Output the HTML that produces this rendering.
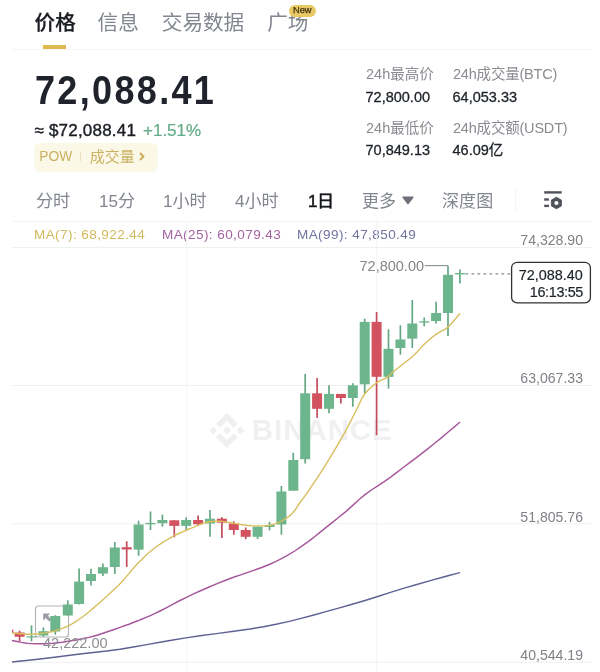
<!DOCTYPE html>
<html lang="zh-CN">
<head>
<meta charset="utf-8">
<title>BTC 价格</title>
<style>
*{margin:0;padding:0;box-sizing:border-box}
html,body{width:600px;height:672px;background:#fff;overflow:hidden}
body{font-family:"Liberation Sans","Noto Sans CJK SC",sans-serif;color:#1e2329;position:relative}
#app{position:absolute;left:0;top:0;width:600px;height:672px;overflow:hidden;background:#fff}
.abs{position:absolute;white-space:nowrap;line-height:1}
.tab{font-size:20.6px;color:#82868f;top:11.5px;line-height:22px}
.tab.on{color:#1b1d22;font-weight:500;-webkit-text-stroke:0.25px #1b1d22}
.badge{left:288.5px;top:4.8px;width:27.5px;height:11.8px;border-radius:6px;background:#e9c963;color:#3f3210;font-size:9.3px;line-height:11.8px;text-align:center;-webkit-text-stroke:0.25px #3f3210}
.uline{left:43px;top:45px;width:23px;height:4.4px;background:#dfb94f}
.hr{height:1px;background:#f4f4f5;left:12px;width:580px}
.big{left:34.5px;top:70px;font-size:40.5px;font-weight:700;letter-spacing:2.6px;color:#20232c;transform:scaleX(0.89);transform-origin:0 0}
.approx{left:34.5px;top:122px;font-size:17px;color:#1b1e24;-webkit-text-stroke:0.4px #1b1e24;letter-spacing:0.2px}
.chg{left:143px;top:122px;font-size:17px;color:#62ab87;-webkit-text-stroke:0.2px #62ab87}
.pow{left:34.3px;top:143px;width:124px;height:28.8px;border-radius:6px;background:#fcf8e7;color:#c9b162;font-size:15px;line-height:28.8px}
.lbl{font-size:14.5px;color:#8a8c92}
.val{font-size:14.5px;color:#1e2329;-webkit-text-stroke:0.3px #1e2329}
.iv{font-size:17.1px;color:#82868f;top:191.5px;line-height:20px}
.iv.on{color:#16181c;-webkit-text-stroke:0.55px #16181c;letter-spacing:-0.6px}
.ma{font-size:13.5px;top:227.5px;letter-spacing:0.43px}
.ax{font-size:14.1px;color:#808287;right:17px;margin-top:-0.5px}
</style>
</head>
<body>
<div id="app">
  <div class="abs tab on" style="left:34.6px">价格</div>
  <div class="abs tab" style="left:97.6px">信息</div>
  <div class="abs tab" style="left:161.800px">交易数据</div>
  <div class="abs tab" style="left:267.200px">广场</div>
  <div class="abs badge">New</div>
  <div class="abs uline"></div>
  <div class="abs hr" style="top:48.500px"></div>

  <div class="abs big">72,088.41</div>
  <div class="abs approx">≈ $72,088.41</div>
  <div class="abs chg">+1.51%</div>
  <div class="abs pow"><span style="position:absolute;left:5px;font-size:13.8px">POW</span><span style="position:absolute;left:46px;top:9px;width:1px;height:9px;background:#eadfb9"></span><span style="position:absolute;left:55.5px">成交量</span><svg style="position:absolute;left:104px;top:8px" width="8" height="11" viewBox="0 0 8 11"><path d="M2 2 L5.5 5.5 L2 9" fill="none" stroke="#c7aa52" stroke-width="1.8"/></svg></div>

  <div class="abs lbl" style="left:366px;top:66.7px">24h最高价</div>
  <div class="abs val" style="left:365.5px;top:90px">72,800.00</div>
  <div class="abs lbl" style="left:453px;top:66.7px;letter-spacing:-0.2px">24h成交量(BTC)</div>
  <div class="abs val" style="left:452.5px;top:90px">64,053.33</div>
  <div class="abs lbl" style="left:366px;top:120.7px">24h最低价</div>
  <div class="abs val" style="left:365.5px;top:143px">70,849.13</div>
  <div class="abs lbl" style="left:453px;top:120.7px;letter-spacing:-0.2px">24h成交额(USDT)</div>
  <div class="abs val" style="left:452.5px;top:143px">46.09亿</div>

  <div class="abs iv" style="left:36px">分时</div>
  <div class="abs iv" style="left:99px">15分</div>
  <div class="abs iv" style="left:163px">1小时</div>
  <div class="abs iv" style="left:235px">4小时</div>
  <div class="abs iv on" style="left:308px">1日</div>
  <div class="abs iv" style="left:362px">更多</div>
  <svg class="abs" style="left:401px;top:195px" width="14" height="11" viewBox="0 0 14 11"><path d="M2.200 2.200 H11.800 L7 8.600 Z" fill="#6e717a" stroke="#6e717a" stroke-width="1.6" stroke-linejoin="round"/></svg>
  <div class="abs iv" style="left:442px">深度图</div>
  <div class="abs" style="left:515px;top:189px;width:1px;height:22px;background:#f4f4f5"></div>
  <svg class="abs" style="left:543px;top:190px" width="22" height="21" viewBox="0 0 22 21">
    <rect x="1.200" y="1.200" width="17.5" height="2.400" fill="#50535b"/>
    <rect x="1.200" y="8.300" width="4.700" height="2.400" fill="#50535b"/>
    <rect x="1.200" y="14.700" width="4.700" height="2.400" fill="#50535b"/>
    <path d="M13.400 7.200 L18.400 10.100 L18.400 15.900 L13.400 18.800 L8.400 15.900 L8.400 10.100 Z" fill="#50535b" stroke="#50535b" stroke-width="0.9" stroke-linejoin="round"/>
    <circle cx="13.400" cy="13" r="2.100" fill="#fff"/>
  </svg>

  <div class="abs hr" style="top:221px"></div>
  <div class="abs ma" style="left:34px;color:#d0b95e">MA(7): 68,922.44</div>
  <div class="abs ma" style="left:162px;color:#a4649f">MA(25): 60,079.43</div>
  <div class="abs ma" style="left:297px;color:#7373a0">MA(99): 47,850.49</div>

  <svg class="abs" style="left:0;top:0" width="600" height="672" viewBox="0 0 600 672">
    <g stroke="#f0f0f1" stroke-width="1">
      <line x1="12" y1="247.500" x2="592" y2="247.500"/>
      <line x1="12" y1="385.500" x2="592" y2="385.500"/>
      <line x1="12" y1="523.800" x2="592" y2="523.800"/>
      <line x1="12" y1="662.300" x2="592" y2="662.300"/>
      <line x1="186.700" y1="221" x2="186.700" y2="672" stroke="#f3f3f4"/>
      <line x1="376.700" y1="221" x2="376.700" y2="672" stroke="#f3f3f4"/>
    </g>
    <!-- watermark -->
    <g fill="#f0f0f1">
      <g transform="translate(209.200,412.800) scale(0.2790)">
        <path d="M38.73,53.2 L63.31,28.63 L87.9,53.22 L102.2,38.92 L63.31,0 L24.43,38.9 Z"/>
        <path d="M0,63.31 L14.3,49 L28.6,63.31 L14.3,77.61 Z"/>
        <path d="M38.73,73.41 L63.31,98 L87.9,73.4 L102.21,87.69 L63.31,126.61 L24.43,87.73 Z"/>
        <path d="M98,63.31 L112.3,49 L126.61,63.31 L112.3,77.61 Z"/>
        <path d="M77.83,63.3 L63.31,48.78 L48.8,63.3 L63.31,77.82 Z"/>
      </g>
      <text transform="translate(251.800,440.300) scale(1.0,1)" x="0" y="0" font-family="Liberation Sans, sans-serif" font-weight="700" font-size="29.4" letter-spacing="1">BINANCE</text>
    </g>
    <!-- low tooltip -->
    <rect x="35.500" y="606" width="33" height="31" rx="3" fill="none" stroke="#b4b6b8" stroke-width="1.200"/>
    <path d="M43.200 613.400 H50.300 L47.900 615.800 L51.400 619.300 L49.200 621.500 L45.700 618 L43.200 620.500 Z" fill="#9a9ca6"/>
  <rect x="12" y="629.7" width="1.3" height="3.3" fill="#d3525f"/>
<line x1="19.60" y1="630.7" x2="19.60" y2="641.3" stroke="#c24c5d" stroke-width="1.7"/>
<rect x="14.60" y="632.5" width="10" height="4.30" fill="#d3525f"/>
<line x1="31.50" y1="625.3" x2="31.50" y2="641.3" stroke="#64a783" stroke-width="1.7"/>
<rect x="26.50" y="636.3" width="10" height="1.20" fill="#6db58c"/>
<line x1="43.40" y1="627.5" x2="43.40" y2="636.8" stroke="#64a783" stroke-width="1.7"/>
<rect x="38.40" y="631.2" width="10" height="4.30" fill="#6db58c"/>
<line x1="55.30" y1="615.2" x2="55.30" y2="634.7" stroke="#64a783" stroke-width="1.7"/>
<rect x="50.30" y="616" width="10" height="15.50" fill="#6db58c"/>
<line x1="67.80" y1="600.3" x2="67.80" y2="615.5" stroke="#64a783" stroke-width="1.7"/>
<rect x="62.80" y="604.5" width="10" height="11.00" fill="#6db58c"/>
<line x1="79.10" y1="568.5" x2="79.10" y2="604.5" stroke="#64a783" stroke-width="1.7"/>
<rect x="74.10" y="581.6" width="10" height="22.40" fill="#6db58c"/>
<line x1="91.00" y1="568.8" x2="91.00" y2="585.6" stroke="#64a783" stroke-width="1.7"/>
<rect x="86.00" y="574" width="10" height="7.00" fill="#6db58c"/>
<line x1="102.90" y1="563.5" x2="102.90" y2="576" stroke="#64a783" stroke-width="1.7"/>
<rect x="97.90" y="567.2" width="10" height="6.40" fill="#6db58c"/>
<line x1="114.80" y1="542" x2="114.80" y2="574" stroke="#64a783" stroke-width="1.7"/>
<rect x="109.80" y="547.5" width="10" height="19.50" fill="#6db58c"/>
<line x1="126.70" y1="541.3" x2="126.70" y2="567" stroke="#c24c5d" stroke-width="1.7"/>
<rect x="121.70" y="547.2" width="10" height="2.30" fill="#d3525f"/>
<line x1="138.60" y1="520.8" x2="138.60" y2="555.7" stroke="#64a783" stroke-width="1.7"/>
<rect x="133.60" y="524.5" width="10" height="25.10" fill="#6db58c"/>
<line x1="150.50" y1="511.5" x2="150.50" y2="530" stroke="#64a783" stroke-width="1.7"/>
<rect x="145.50" y="522.9" width="10" height="1.40" fill="#6db58c"/>
<line x1="162.40" y1="514.7" x2="162.40" y2="526.7" stroke="#64a783" stroke-width="1.7"/>
<rect x="157.40" y="520" width="10" height="3.20" fill="#6db58c"/>
<line x1="174.30" y1="520.3" x2="174.30" y2="537.3" stroke="#c24c5d" stroke-width="1.7"/>
<rect x="169.30" y="520.3" width="10" height="5.60" fill="#d3525f"/>
<line x1="186.20" y1="517.3" x2="186.20" y2="530.7" stroke="#64a783" stroke-width="1.7"/>
<rect x="181.20" y="520" width="10" height="5.90" fill="#6db58c"/>
<line x1="198.10" y1="515.5" x2="198.10" y2="526" stroke="#c24c5d" stroke-width="1.7"/>
<rect x="193.10" y="520" width="10" height="4.30" fill="#d3525f"/>
<line x1="210.00" y1="509.9" x2="210.00" y2="536.8" stroke="#64a783" stroke-width="1.7"/>
<rect x="205.00" y="518.7" width="10" height="4.80" fill="#6db58c"/>
<line x1="221.90" y1="517.3" x2="221.90" y2="538" stroke="#c24c5d" stroke-width="1.7"/>
<rect x="216.90" y="518.7" width="10" height="4.00" fill="#d3525f"/>
<line x1="233.80" y1="521.3" x2="233.80" y2="534.7" stroke="#c24c5d" stroke-width="1.7"/>
<rect x="228.80" y="523.5" width="10" height="6.50" fill="#d3525f"/>
<line x1="245.70" y1="527.5" x2="245.70" y2="539.2" stroke="#c24c5d" stroke-width="1.7"/>
<rect x="240.70" y="530" width="10" height="6.80" fill="#d3525f"/>
<line x1="257.60" y1="526.7" x2="257.60" y2="539" stroke="#64a783" stroke-width="1.7"/>
<rect x="252.60" y="526.7" width="10" height="10.10" fill="#6db58c"/>
<line x1="269.50" y1="521.9" x2="269.50" y2="530.4" stroke="#64a783" stroke-width="1.7"/>
<rect x="264.50" y="525" width="10" height="2.00" fill="#6db58c"/>
<line x1="281.40" y1="486" x2="281.40" y2="534.7" stroke="#64a783" stroke-width="1.7"/>
<rect x="276.40" y="491.5" width="10" height="33.00" fill="#6db58c"/>
<line x1="293.30" y1="452.8" x2="293.30" y2="490.7" stroke="#64a783" stroke-width="1.7"/>
<rect x="288.30" y="460" width="10" height="30.70" fill="#6db58c"/>
<line x1="305.20" y1="373.9" x2="305.20" y2="463.5" stroke="#64a783" stroke-width="1.7"/>
<rect x="300.20" y="393.3" width="10" height="65.90" fill="#6db58c"/>
<line x1="317.10" y1="377.9" x2="317.10" y2="418" stroke="#c24c5d" stroke-width="1.7"/>
<rect x="312.10" y="393.3" width="10" height="15.50" fill="#d3525f"/>
<line x1="329.00" y1="385.3" x2="329.00" y2="413.3" stroke="#64a783" stroke-width="1.7"/>
<rect x="324.00" y="393.9" width="10" height="14.90" fill="#6db58c"/>
<line x1="340.90" y1="393.9" x2="340.90" y2="403.5" stroke="#c24c5d" stroke-width="1.7"/>
<rect x="335.90" y="393.9" width="10" height="4.10" fill="#d3525f"/>
<line x1="352.80" y1="383.2" x2="352.80" y2="406.7" stroke="#64a783" stroke-width="1.7"/>
<rect x="347.80" y="385.3" width="10" height="12.70" fill="#6db58c"/>
<line x1="364.70" y1="318.7" x2="364.70" y2="393.3" stroke="#64a783" stroke-width="1.7"/>
<rect x="359.70" y="321.9" width="10" height="62.40" fill="#6db58c"/>
<line x1="376.60" y1="312" x2="376.60" y2="435.2" stroke="#c24c5d" stroke-width="1.7"/>
<rect x="371.60" y="321.9" width="10" height="54.90" fill="#d3525f"/>
<line x1="388.50" y1="329.3" x2="388.50" y2="388.5" stroke="#64a783" stroke-width="1.7"/>
<rect x="383.50" y="348.8" width="10" height="28.00" fill="#6db58c"/>
<line x1="400.40" y1="325.3" x2="400.40" y2="354.7" stroke="#64a783" stroke-width="1.7"/>
<rect x="395.40" y="339.5" width="10" height="8.50" fill="#6db58c"/>
<line x1="412.30" y1="300" x2="412.30" y2="348" stroke="#64a783" stroke-width="1.7"/>
<rect x="407.30" y="323.5" width="10" height="15.10" fill="#6db58c"/>
<line x1="424.20" y1="317.5" x2="424.20" y2="326.3" stroke="#64a783" stroke-width="1.7"/>
<rect x="419.20" y="321.3" width="10" height="1.30" fill="#6db58c"/>
<line x1="436.10" y1="301.8" x2="436.10" y2="323.5" stroke="#64a783" stroke-width="1.7"/>
<rect x="431.10" y="313" width="10" height="8.00" fill="#6db58c"/>
<line x1="448.00" y1="265.7" x2="448.00" y2="336" stroke="#64a783" stroke-width="1.7"/>
<rect x="443.00" y="274.8" width="10" height="38.20" fill="#6db58c"/>
<line x1="459.90" y1="269.6" x2="459.90" y2="283.6" stroke="#64a783" stroke-width="1.7"/>
<rect x="454.90" y="273.0" width="10" height="1.40" fill="#6db58c"/>
    <polyline fill="none" stroke="#d8be5f" stroke-width="1.4" stroke-linejoin="round" points="12.0,633.0 14.6,633.2 18.3,633.5 22.0,633.8 25.2,634.0 28.4,634.2 31.7,634.2 35.1,634.0 38.6,633.7 42.0,633.3 45.3,632.9 48.6,632.3 51.7,631.7 54.6,631.0 57.3,630.1 60.0,629.2 62.8,628.2 65.6,627.0 68.3,625.8 70.9,624.5 73.4,623.1 76.0,621.4 78.8,619.5 81.7,617.5 85.0,615.0 88.7,612.0 92.8,608.6 97.0,605.0 101.3,601.2 105.7,597.2 110.0,593.3 114.0,589.6 117.9,585.9 121.7,582.0 125.7,577.4 129.7,572.6 133.3,568.3 136.3,565.0 139.0,562.2 141.7,559.5 144.5,556.8 147.3,554.1 150.0,551.7 152.7,549.5 155.3,547.5 158.0,545.5 160.9,543.6 163.8,541.7 166.7,540.0 169.4,538.4 172.0,536.9 175.0,535.3 178.8,533.5 183.1,531.6 186.7,530.0 189.0,529.0 190.8,528.3 193.3,527.3 197.3,525.6 202.0,523.7 206.7,522.2 211.1,521.5 215.6,521.2 220.0,521.2 224.4,521.6 228.9,522.4 233.3,523.2 237.8,523.9 242.2,524.7 246.7,525.3 251.3,525.7 255.8,525.9 260.0,525.9 263.6,525.9 266.7,525.7 270.0,525.2 273.5,524.4 277.0,523.2 280.7,521.6 284.6,519.3 288.6,516.6 292.2,513.5 295.1,510.0 297.6,506.2 300.0,502.5 302.1,499.8 304.1,497.1 307.5,492.4 313.0,484.2 319.9,473.9 326.7,463.2 333.4,452.2 340.0,440.8 345.8,430.5 350.3,421.9 354.1,414.5 357.3,408.0 359.9,402.6 362.0,398.2 364.7,394.0 368.4,389.8 372.6,385.9 376.7,382.7 380.5,380.4 384.2,378.9 387.3,377.3 389.2,375.7 390.6,374.2 392.5,372.3 395.7,369.7 399.6,366.7 403.3,363.8 406.6,361.3 409.9,358.8 413.3,355.8 417.1,352.0 421.0,347.6 425.0,343.6 428.9,340.1 432.8,336.8 436.7,333.9 440.4,331.7 444.0,329.9 447.8,327.3 452.2,322.7 456.8,317.2 460,313.3"/>
<polyline fill="none" stroke="#a6589c" stroke-width="1.45" stroke-linejoin="round" points="12.0,640.5 15.9,641.3 21.4,642.4 26.7,643.2 31.2,643.6 35.6,643.8 40.0,643.8 44.4,643.7 48.9,643.5 53.3,643.2 57.8,642.7 62.2,642.2 66.7,641.5 71.1,640.8 75.6,640.0 80.0,639.2 84.4,638.3 88.9,637.4 93.3,636.3 97.8,635.0 102.2,633.5 106.7,632.0 111.1,630.5 115.6,629.0 120.0,627.4 124.4,625.8 128.9,624.2 133.3,622.5 137.8,620.8 142.2,619.0 146.7,617.1 150.9,615.3 155.1,613.4 160.0,611.0 166.2,607.8 173.1,604.1 180.0,600.5 186.5,597.3 193.0,594.2 200.0,591.0 208.0,587.5 216.5,583.9 225.0,580.5 233.5,577.3 242.1,574.4 250.0,571.6 256.8,569.2 263.0,567.0 269.2,564.5 275.6,561.6 281.9,558.4 288.3,554.9 294.7,551.0 301.1,546.7 307.5,542.2 313.9,537.3 320.3,532.1 326.7,526.9 333.1,521.9 339.4,516.8 345.8,511.6 352.2,505.9 358.6,500.0 365.0,494.6 371.4,490.0 377.8,485.9 384.2,481.7 390.6,477.1 396.9,472.3 403.3,467.5 409.7,462.7 416.1,457.8 422.5,452.9 428.9,447.9 435.3,442.7 441.6,437.6 448.5,431.8 455.3,426.1 460,422"/>
<polyline fill="none" stroke="#5f6193" stroke-width="1.45" stroke-linejoin="round" points="12.0,662.0 18.8,661.3 28.7,660.3 40.0,659.0 52.4,657.5 66.2,655.7 80.0,654.0 93.3,652.5 106.7,651.0 120.0,649.2 133.3,647.0 146.7,644.6 160.0,642.2 173.0,640.0 185.9,637.9 200.0,635.8 216.4,633.6 233.8,631.3 250.0,629.0 263.6,626.7 276.0,624.3 288.3,621.6 301.1,618.4 313.9,615.0 326.7,611.4 339.5,607.9 352.2,604.2 365.0,600.5 377.8,596.5 390.5,592.4 403.3,588.4 416.8,584.5 430.3,580.6 441.6,577.5 449.9,575.2 456.0,573.6 460,572.6"/>
    <!-- high marker -->
    <path d="M424.800 265.600 H447.800" stroke="#86928d" stroke-width="1.100" fill="none"/>
    <line x1="465.500" y1="273.900" x2="511" y2="273.900" stroke="#7f8c88" stroke-width="1.300" stroke-dasharray="2.600 3.400"/>
    <rect x="511.600" y="262.300" width="78.800" height="40.600" rx="5.500" ry="5.500" fill="#fff" stroke="#2f3237" stroke-width="1.300"/>
    </svg>
  <div class="abs ax" style="top:233px">74,328.90</div>
  <div class="abs ax" style="top:371px">63,067.33</div>
  <div class="abs ax" style="top:510px">51,805.76</div>
  <div class="abs ax" style="top:648px">40,544.19</div>
  <div class="abs" style="left:359.500px;top:259px;font-size:14.5px;color:#85878b">72,800.00</div>
  <div class="abs" style="right:17.300px;top:267.800px;font-size:14.4px;color:#1e2329;-webkit-text-stroke:0.2px #1e2329">72,088.40</div>
  <div class="abs" style="right:17px;top:284.600px;font-size:14.4px;color:#1e2329;letter-spacing:-0.35px;-webkit-text-stroke:0.2px #1e2329">16:13:55</div>
  <div class="abs" style="left:43px;top:636px;font-size:14.5px;color:#8c8e92">42,222.00</div>
</div>
</body>
</html>
